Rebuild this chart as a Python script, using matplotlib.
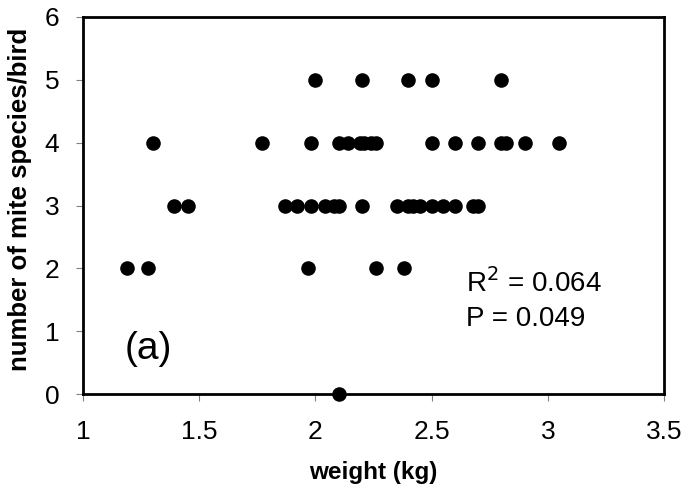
import matplotlib
matplotlib.use("Agg")
import matplotlib.pyplot as plt

# data
y5_x = [2.00, 2.20, 2.40, 2.50, 2.80]
y4_x = [1.30, 1.77, 1.98, 2.10, 2.14, 2.19, 2.21, 2.24, 2.26, 2.50, 2.60, 2.70, 2.80, 2.82, 2.90, 3.05]
y3_x = [1.39, 1.45, 1.87, 1.92, 1.98, 2.04, 2.08, 2.10, 2.20,
        2.35, 2.40, 2.42, 2.45, 2.50, 2.55, 2.60, 2.68, 2.70]
y2_x = [1.19, 1.28, 1.97, 2.26, 2.38]
y0_x = [2.10]

weights = y5_x + y4_x + y3_x + y2_x + y0_x
species = [5]*len(y5_x) + [4]*len(y4_x) + [3]*len(y3_x) + [2]*len(y2_x) + [0]*len(y0_x)

x_ticks = [1, 1.5, 2, 2.5, 3, 3.5]
x_tick_labels = ["1", "1.5", "2", "2.5", "3", "3.5"]
y_ticks = [0, 1, 2, 3, 4, 5, 6]

arial = ['Liberation Sans', 'DejaVu Sans']

fig = plt.figure(figsize=(6.81, 4.88), dpi=100)
ax = fig.add_axes([83/681, 1-394/488, (664-83)/681, (394-17)/488])

ax.scatter(weights, species, s=110, color='black', zorder=5, clip_on=False, linewidths=0)

ax.set_xlim(1, 3.5)
ax.set_ylim(0, 6)
ax.set_xticks(x_ticks)
ax.set_xticklabels(x_tick_labels)
ax.set_yticks(y_ticks)
for sp in ax.spines.values():
    sp.set_linewidth(2)
    sp.set_color('black')
ax.tick_params(direction='out', length=5, width=0.8, color='#808080')
for lab in ax.get_xticklabels() + ax.get_yticklabels():
    lab.set_fontfamily(arial)
    lab.set_fontsize(19)
ax.tick_params(axis='x', pad=14)
ax.tick_params(axis='y', pad=12)

ax.set_xlabel("weight (kg)", fontsize=17.5, fontweight='bold', family=arial, labelpad=12)
ax.set_ylabel("number of mite species/bird", fontsize=18.5, fontweight='bold', family=arial)
ax.yaxis.set_label_coords(-0.088, 0.515)

ax.text(1.18, 0.43, "(a)", fontsize=28, family=arial, ha='left', va='bottom')
ax.text(2.65, 1.53, r"R$^{2}$ = 0.064", fontsize=20, family=arial, ha='left', va='bottom')
ax.text(2.65, 0.98, "P = 0.049", fontsize=20, family=arial, ha='left', va='bottom')

fig.savefig("out.png", dpi=100)
